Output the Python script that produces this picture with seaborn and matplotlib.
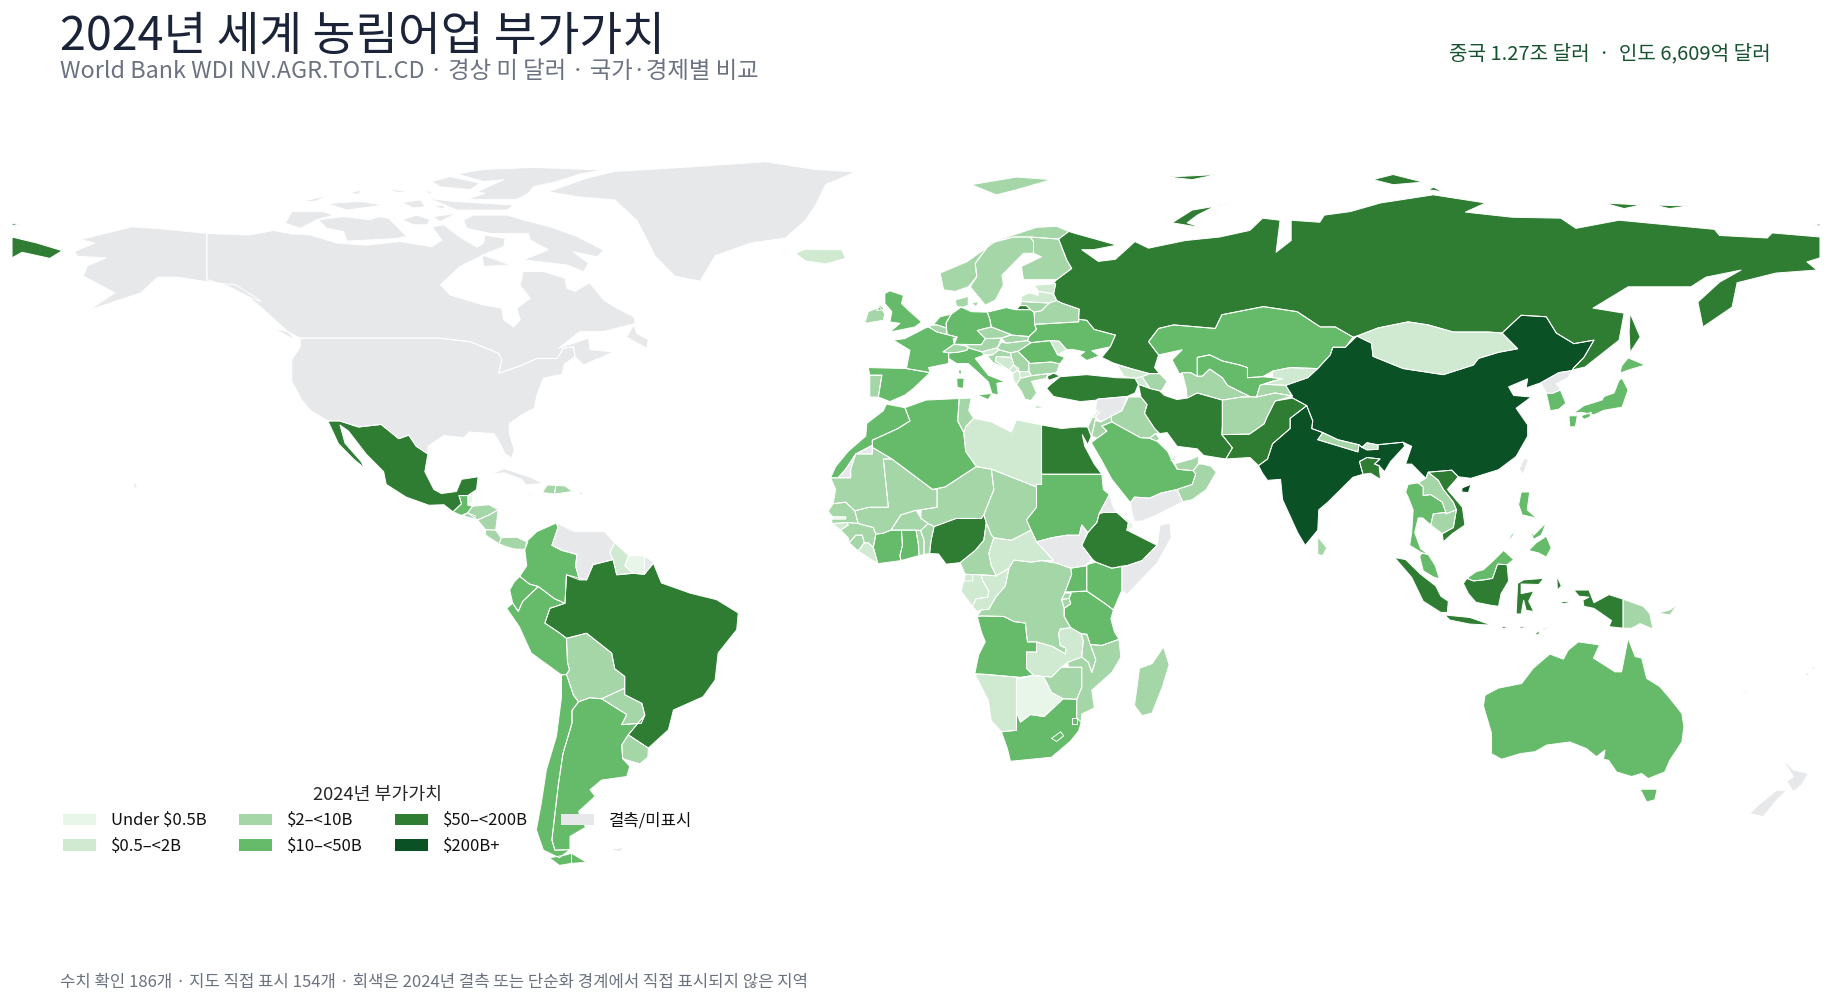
import numpy as np
import pandas as pd
import seaborn as sns
import matplotlib.pyplot as plt
from matplotlib.patches import Patch

bin_labels = ['Under $0.5B', '$0.5–<2B', '$2–<10B', '$10–<50B', '$50–<200B', '$200B+', '결측/미표시']
bin_colors = ['#e8f5e9', '#cfead1', '#a5d6a7', '#66bb6a', '#2e7d32', '#0a5126', '#e6e8ea']

# country outlines as flat lon,lat lists, one dict per value bin
under_05 = {
    'Suriname': [[-57.2,6,-54,5.9,-54.1,2.3,-56.3,2.5,-58,4]],
    'Botswana': [[20,-18.3,23.4,-17.6,25.3,-17.8,26,-19,27,-21,29.3,-22.2,26.8,-24.5,25.5,-25.7,22.8,-25.3,20.8,-26.8,20,-24.8,20,-22]],
    'Belize': [[-89.2,17.8,-88.2,18.5,-88.3,16.5,-89.2,15.9]],
    'EqGuinea': [[9.5,1,11.3,1,11.3,2.2,9.8,2.3]],
    'Djibouti': [[42,11,43.3,11.5,43,12.7,42.3,12.5]],
    'EastTimor': [[124.6,-8.3,126.6,-7.9,125,-8.8]],
}
from_05 = {
    'Guyana': [[-60,8.5,-57.2,6,-58,4,-56.3,2.5,-59.6,2.2,-60.3,5.2,-61,6.5]],
    'Iceland': [[-24,65.5,-22,64,-18,63.4,-14,64.5,-14.8,66.2,-18,66.2,-22,66.3]],
    'Libya': [[9.5,30.2,10,31.5,11.5,33,15,32.3,19,30.3,20,32.7,25,31.7,25,20,24,20,24,19.5,15,23,12,23.5,9.9,26.5]],
    'CAR': [[14.5,6.5,15.5,9.5,19,9,22.9,11,24,8.7,27.4,5,25,5,23,4.7,19.5,5.1,18.5,3.5,16,2,15,4]],
    'Gabon': [[9.8,2.3,13,2.2,13.2,1.2,14.5,-1,14.3,-2.2,12,-2.5,11.2,-4,9,-1,9.5,1]],
    'Congo': [[11.2,-4,12.2,-5,13,-4.7,14.5,-4.6,16,-2,17.8,0,18.5,3.5,16,2,13,2.2,13.2,1.2,14.5,-1,14.3,-2.2,12,-2.5]],
    'Zambia': [[22,-13,24,-13,24,-11,27.2,-11.9,29.8,-13.4,29.8,-12.2,28.7,-11.7,28.4,-9.3,28.7,-8.5,30.8,-8.2,32.9,-9.4,33.3,-10.8,33,-14,30.2,-15,28.9,-16,27,-17.9,25.3,-17.8,23.4,-17.6,22,-16.2]],
    'Namibia': [[11.7,-17.3,13.9,-17.4,20.8,-18,23.4,-17.6,20,-18.3,20,-22,20,-24.8,20,-28.4,17,-28.7,15,-26.5,14.4,-22.5]],
    'Lesotho': [[27,-30,28.8,-28.7,29.4,-29.5,28,-30.6]],
    'Eswatini': [[31,-26,32,-26,32,-27.2,31,-27.2]],
    'Liberia': [[-11.5,6.9,-7.6,4.4,-8.5,7.6,-9.5,8.5,-10.3,8.5]],
    'Gambia': [[-16.8,13.2,-14,13.2,-14,13.6,-16.6,13.6]],
    'GuineaBissau': [[-16.7,12.3,-13.7,12.5,-13.5,12,-15,11]],
    'Mongolia': [[87.8,49.2,92,50.8,98,52,102,51.4,107,50,114,50,116.7,49.8,119.8,46.7,116,46,112,44.8,111,43.5,105,41.6,97,42.8,91,45.2,90.7,47.8]],
    'Kyrgyzstan': [[69.5,39.7,73.6,39.5,78,41,80,42.8,74.5,43,71,42.3,71,41,73,40.8,71,40.3]],
    'Bhutan': [[88.8,27.3,89.8,28.2,92,27.8,92,26.9,89.8,26.8]],
    'Georgia': [[40,43.5,43.5,42.6,46.5,41.8,45,41.2,43.6,40.9,41.5,41.2]],
    'Armenia': [[43.6,40.9,45,41.2,46.5,39,44.3,39.7]],
    'Estonia': [[23.5,59.2,27.8,59.5,27.4,57.5,24.4,58]],
    'Latvia': [[21,57,22.5,57.7,24.3,57.2,24.4,58,27.4,57.5,28,56.2,26.5,55.7,21,56]],
    'Moldova': [[26.7,48.3,28.5,48.2,30,46.5,28.2,45.5]],
    'Bosnia': [[15.8,44.3,16,45.2,19,45,19.5,43.5,18.5,42.5]],
    'Slovenia': [[13.1,46.1,16.2,46.9,16.5,46.5,15.3,45.5,13.6,45.5]],
    'Montenegro': [[18.5,42.5,19.5,43.5,20.5,42.8,19.3,41.9]],
    'Albania': [[19.3,41.9,20.5,42.5,20.8,40.9,20,39.7,19.4,40.5]],
    'Macedonia': [[20.5,42.2,22.5,42.2,23,41.4,20.8,40.9]],
    'Lebanon': [[35.1,33.1,35.8,33.3,36.5,34.3,36,34.6]],
    'Qatar': [[50.8,24.7,51.6,25.9,51.6,24.6]],
    'Jamaica': [[-78.3,18.4,-76.3,18.1,-77,17.9]],
    'PuertoRico': [[-67.2,18.5,-65.6,18.3,-67,18]],
    'Fiji': [[177,-17,178,-17.3,177.5,-17.7], [178.3,-16.2,179.2,-15.8,178.8,-16.5]],
}
from_2 = {
    'Mauritania': [[-17,21.3,-13,21.3,-13,23,-12,26,-8.7,26,-8.7,27.3,-4.8,25,-6.5,25,-5.5,15.5,-9.3,15.5,-12.2,14.8,-14,16.5,-16.5,16.2,-16,19]],
    'Mali': [[-4.8,25,3.3,19,4.2,19,4.2,15.5,1,15,0,14.9,-3,14,-5,11,-6.5,10.4,-8,10.2,-8.5,11.5,-11.5,12.3,-12.2,14.8,-9.3,15.5,-5.5,15.5,-6.5,25]],
    'Niger': [[3.3,19,5.8,19.5,12,23.5,15,23,15.5,19,13.5,14,13,13.3,8,13.3,3.6,11.7,2.4,12.3,1,13.3,1,15,4.2,15.5,4.2,19]],
    'Chad': [[15,23,24,19.5,24,15.5,22,13,22.9,11,19,9,15.5,9.5,15,10,14,12.5,13.5,14,15.5,19]],
    'Tunisia': [[8.6,36.9,11,37,10.5,34.5,11.5,33,10,31.5,9.5,30.2,8.3,32.5]],
    'Cameroon': [[8.8,4.6,11.8,7,13.5,9,14,12.5,15,10,15.5,9.5,14.5,6.5,15,4,16,2,13,2.2,9.8,2.3]],
    'DRC': [[12.2,-6,13,-4.7,14.5,-4.6,16,-2,17.8,0,18.5,3.5,19.5,5.1,23,4.7,25,5,28,4.5,30.8,3.5,31,2.3,29.6,-1.4,29,-2.7,29.5,-4.4,29.5,-6,30.8,-8.2,28.7,-8.5,28.4,-9.3,28.7,-11.7,29.8,-12.2,29.8,-13.4,27.2,-11.9,24,-11,22.2,-11,22,-9.5,21.8,-7.3,19.5,-7,17.5,-6,13,-5.9]],
    'Rwanda': [[29,-2.7,29.6,-1.4,30.9,-1.4,30.5,-2.4]],
    'Burundi': [[29,-2.7,30.5,-2.4,30.8,-3.5,29.5,-4.4]],
    'Malawi': [[32.9,-9.4,34,-9.5,34.7,-11.5,35.8,-14.5,35,-17,34.3,-15,33,-14,33.3,-10.8]],
    'Mozambique': [[40.4,-10.5,37,-11.7,34.7,-11.5,35.8,-14.5,35,-17,34.3,-15,33,-14,30.2,-15,30.4,-16,33,-16,33,-20,32,-22.3,32,-26,32.9,-26.8,33,-25.2,35.5,-24,35,-20.5,39,-17,40.8,-14]],
    'Zimbabwe': [[25.3,-17.8,27,-17.9,28.9,-16,30.4,-16,33,-16,33,-20,32,-22.3,29.3,-22.2,27,-21,26,-19]],
    'Madagascar': [[49.3,-12,50.4,-15.5,49,-20,47,-25,45,-25.5,43.5,-23.5,44,-20,44.5,-16.2,47,-15.3]],
    'BurkinaFaso': [[-5,11,-2.9,11,0,11,0.9,10.9,2.4,12.3,1,13.3,0,14.9,-3,14]],
    'Benin': [[1.6,6.2,2.7,6.4,3,9,3.6,11.7,2.4,12.3,0.9,10.9,1.6,9]],
    'Togo': [[0.6,6,1.6,6.2,1.6,9,0.9,10.9,0,11,0.5,8]],
    'SierraLeone': [[-13.3,8.5,-11.5,6.9,-10.3,8.5,-10.7,10,-12,10]],
    'Guinea': [[-15,11,-13.5,9.5,-13.3,8.5,-12,10,-10.7,10,-10.3,8.5,-9.5,8.5,-8.5,7.6,-8,10.2,-8.5,11.5,-11.5,12.3,-13.7,12.5,-13.5,12]],
    'Senegal': [[-17.5,14.7,-16.5,16.2,-14,16.5,-12.2,14.8,-11.5,12.3,-13.7,12.5,-16.7,12.3,-16.8,13.2,-14,13.2,-14,13.6,-16.6,13.6]],
    'Honduras': [[-89.3,14.4,-88.3,15.7,-85,16,-83.2,15,-85,14,-87.3,13]],
    'ElSalvador': [[-90.1,13.8,-89.3,14.4,-87.7,13.8,-88,13.2]],
    'Nicaragua': [[-87.3,13,-85,14,-83.2,15,-83.7,11,-85.7,11.1]],
    'CostaRica': [[-85.7,11.1,-83.7,11,-82.6,9.5,-83,8.3,-85.7,10]],
    'Panama': [[-83,8.3,-82.6,9.5,-79.5,9.6,-77.3,8.6,-77.9,7.2,-80,7.3,-81.5,7.7]],
    'Haiti': [[-74.4,18.4,-72,18.1,-71.7,19.8,-73.4,19.9]],
    'Dominican': [[-72,18.1,-68.4,18.6,-69.9,19.7,-71.7,19.8]],
    'Bolivia': [[-69.6,-10.3,-65.6,-9.3,-60.6,-13.2,-60,-16.3,-58,-17.8,-58,-20,-58.2,-20.2,-62.6,-22.2,-65,-22,-67.2,-22.8,-68.2,-21.5,-69.6,-17.4,-69,-16.5,-69.4,-15]],
    'Paraguay': [[-58.2,-20.2,-58,-20,-58,-21.4,-54.6,-23.1,-54,-25.4,-54.7,-27,-58.6,-27.3,-57.6,-25.3,-62.6,-22.2]],
    'Uruguay': [[-57.3,-29.3,-53.3,-31.9,-53.4,-33.7,-55,-35,-58.4,-34,-58.6,-31.3]],
    'Ireland': [[-10.2,51.7,-9.5,54,-7.2,54.9,-6.2,53.6,-6.5,52.3]],
    'Portugal': [[-9.2,41.5,-6.8,41.5,-7.5,37.2,-9.2,37.2]],
    'Belgium': [[2.5,51,3.4,51.4,4.2,51.4,6,50.8,6.2,49.5,4.2,50]],
    'Switzerland': [[5.4,46.1,7.6,47.6,10.4,47.2,10.1,46.4,8.3,46,6.5,45.9]],
    'Austria': [[9.6,47.5,13,47.5,13.8,48.7,17,48.8,16.2,46.9,13.1,46.1,10.4,46.9]],
    'Czechia': [[12.2,50.3,15,51,19,49.5,17,48.8,13.8,48.7]],
    'Slovakia': [[17,48.8,19,49.4,22.5,49.1,22.2,48.3,18,47.8]],
    'Hungary': [[16.2,46.9,17,48,18,47.8,22.2,48.3,22.9,47.9,20.3,46.2,18.8,45.9,16.5,46.5]],
    'Croatia': [[13.6,45.3,15.3,45.5,16.5,46.5,18.8,45.9,19,45,16,45.2,15.8,44.3,18.5,42.5,15.3,44,14.3,45.2]],
    'Serbia': [[18.8,45.9,20.3,46.2,22,44.5,22.4,44.2,22.5,42.2,20.5,42.2,19.5,43.5,19,45]],
    'Bulgaria': [[22.4,44.2,22.7,43.8,27,44.1,28.6,43.7,28,42,26.3,41.8,23,41.4,22.5,42.2]],
    'Greece': [[20,39.7,20.8,40.9,23,41.4,26.3,41.8,26,40.9,23,40.3,24,38,22.9,36.5,21.7,36.8,21,38.3], [23.6,35.5,26.3,35.2,24,35]],
    'Denmark': [[7.8,56.3,8.1,55,9.5,54.9,10.4,55.3,10.4,57], [11,55.7,12.5,56,12,55]],
    'Norway': [[4.8,61.6,5.5,58.3,7.8,58,10.4,58.9,12.1,60.9,11.8,63.5,14.8,67.5,19.4,68.7,22.7,68.7,28.4,68.3,30.4,69.8,28,70.8,24,70.6,16.1,68,10.1,63.8], [11,79,20,80.5,27,80,20,78,16,77]],
    'Sweden': [[10.8,58.9,13.8,55.3,15.8,56.3,17.4,59.3,17.1,61.2,21.4,65.5,23.4,65.5,23.4,67.8,22.7,68.7,19.4,68.7,14.8,67.5,11.8,63.5,12.1,60.9]],
    'Finland': [[23.4,67.8,22.7,68.7,28.4,68.3,30,64.2,31,62.5,28,60.3,21.4,60.3,21,62.9,25,64.8,23.4,65.5]],
    'Lithuania': [[21,56,26.5,55.7,25,54.2,23.5,53.9,22.8,54.4,22,55.2,20.7,55.2]],
    'Belarus': [[23.6,51.5,32.4,52,32.4,53,32.5,54.5,29,55.7,28,56.2,26.5,55.7,25,54.2,23.5,53.9,23.6,52.5]],
    'Azerbaijan': [[45,41.2,46.5,41.8,48.5,41.8,50,40.3,48.9,38.4,46.5,38.9,46.5,39]],
    'Iraq': [[38.8,33.4,41,34.5,42.3,37.2,44.8,37.2,46,35.7,45.5,34,47.5,31,48.5,30,47.7,30,46.5,29.1,44.7,29.2,39,32.3]],
    'Jordan': [[35,29.4,36.2,29.2,38,30.5,37,31.5,39,32.3,38.8,33.4,36.8,32.3,35.6,32.6]],
    'Israel': [[34.2,31.3,34.9,29.5,35.5,31.5,35.8,33.3,35.1,33.1]],
    'Kuwait': [[46.5,29.1,47.7,30,48.5,29,48,28.5]],
    'UAE': [[51.6,24.1,52,23,55.2,22.7,56.2,24,56.3,25.6,55,25]],
    'Oman': [[55,20,55.7,22,55.2,22.7,56.2,24,57,24,58.7,23.6,59.8,22.4,57.8,19,55,17,53.1,16.6,52,19]],
    'Afghanistan': [[61,36.6,64.8,37.2,67.8,37.2,71.5,38,74.9,37.4,71.5,36.4,70,33.5,69.3,31.9,66.4,29.9,60.9,29.8,61,31.5]],
    'Turkmenistan': [[53,42,54.7,42,56,41.3,57,41.3,58.5,42.7,61,41,62,39.5,66.5,37.3,64.8,37.2,61,36.6,56,38,54,37,53.8,39]],
    'Tajikistan': [[67.8,37.2,68.5,39.5,71,40.3,69.5,39.7,73.6,39.5,75,37.4,71.5,38]],
    'Nepal': [[80,28.8,81,30.2,84,28.8,88.2,27.8,88,26.4]],
    'SriLanka': [[80,9.7,81.8,7.5,81,6,80,6.2]],
    'Laos': [[100,20.3,101.5,21.2,102,22.4,104,20.8,105,19,107,16.5,107.6,15,105.5,14.2,105.5,14.5,104.8,16.5,102.5,18,101,17.8,101,19.5]],
    'Cambodia': [[102.5,12,103,14.2,105.5,14.5,105.5,14.2,107.6,15,107,11.5,104.8,10.3]],
    'PNG': [[140.8,-2.6,144.8,-4,146.1,-5.4,146.8,-8.7,149.8,-9.8,144.2,-7.4,142.5,-8.3,140.8,-8.3], [147.8,-5.3,150.1,-4.7,151.6,-3.7,150.1,-5.7]],
}
from_10 = {
    'Colombia': [[-77.5,8.8,-75.5,10.7,-71.6,12.4,-71.3,11.5,-72.5,8,-70.5,7,-67.5,6.2,-67.8,4,-67,1.2,-69.6,2.2,-69.9,-3.4,-72,-2.5,-75.2,-0.1,-77,0.4,-78.9,1.9,-77.5,4,-77.9,7.2]],
    'Ecuador': [[-78.9,1.9,-77,0.4,-75.2,-0.1,-78.3,-3,-79.2,-5,-80.3,-3.4,-80.9,-0.8,-80,0.8]],
    'Peru': [[-80.3,-3.4,-79.2,-5,-78.3,-3,-75.2,-0.1,-72,-2.5,-69.9,-3.4,-72.9,-4.4,-73.9,-7.3,-70.9,-9.3,-69.6,-10.3,-69.4,-15,-69,-16.5,-69.6,-17.4,-70.6,-17.5,-76.6,-13.2,-79,-8,-81.5,-4.4]],
    'Chile': [[-70.6,-17.5,-69.6,-17.4,-68.2,-21.5,-67.2,-22.8,-68.5,-24.5,-68.5,-27,-70.3,-33,-71.2,-39,-71.8,-44,-72.5,-50,-71.9,-52,-68.9,-51.9,-71,-53.5,-74.2,-52,-75.6,-48,-74.6,-42.7,-73.6,-36.2,-71.6,-29.6,-70.6,-22], [-68.6,-52.6,-68.6,-54.6,-71,-55,-73,-53.5,-70,-53]],
    'Argentina': [[-67.2,-22.8,-65,-22,-62.6,-22.2,-57.6,-25.3,-58.6,-27.3,-54.7,-27,-54,-25.4,-57.3,-29.3,-58.6,-31.3,-58.4,-34,-57,-35.5,-57.6,-37.5,-62.6,-38.2,-64.9,-40.1,-63.9,-41.4,-67.2,-44.4,-65.8,-47.5,-68.9,-49.3,-68.9,-51.9,-71.9,-52,-72.5,-50,-71.8,-44,-71.2,-39,-70.3,-33,-68.5,-27,-68.5,-24.5], [-68.6,-52.6,-65.6,-54.4,-68.6,-54.6]],
    'Guatemala': [[-92.2,14.6,-90.5,16.2,-91,17.8,-89.2,17.8,-89.2,15.9,-88.3,15.7,-89.3,14.4,-90.5,13.9]],
    'Morocco': [[-5.9,35.8,-2.2,35.1,-1.2,32.5,-3.6,31,-8.7,28.7,-8.7,27.7,-12,26,-14,23,-15.5,21.3,-17,21.3,-16,23.5,-13.5,26.5,-10,29.5,-9.8,32,-6.5,34.5]],
    'Algeria': [[-8.7,27.3,-8.7,28.7,-3.6,31,-1.2,32.5,-2.2,35.1,2,36.6,8.6,36.9,8.3,32.5,9.5,30.2,9.9,26.5,12,23.5,5.8,19.5,3.3,19,-4.8,25]],
    'Sudan': [[25,22,37,22,37.3,19,38.5,18,36.5,14.3,36,12.5,34.2,10.5,33,12,32.5,10,30,10,27,9.5,24,8.7,22.9,11,22,13,24,15.5,24,19.5,24,20,25,20]],
    'IvoryCoast': [[-7.6,4.4,-3,5,-3.2,6,-2.7,8,-2.9,11,-5,11,-6.5,10.4,-8,10.2,-8.5,7.6]],
    'Ghana': [[-3,5,0.6,6,0.5,8,0,11,-2.9,11,-2.7,8,-3.2,6]],
    'Kenya': [[34,4.2,35.8,4.7,39,3.5,41,3.9,41,-0.8,39.3,-4.7,37.7,-3.5,34,-1,34,1]],
    'Uganda': [[30.8,3.5,33.9,4,34,4.2,34,1,34,-1,30,-1.2,29.6,-1.4,31,2.3]],
    'Tanzania': [[30,-1.2,34,-1,37.7,-3.5,39.3,-4.7,38.8,-6.5,39.5,-9,40.4,-10.5,37,-11.7,34.7,-11.5,34,-9.5,32.9,-9.4,30.8,-8.2,29.5,-6,29.5,-4.4,30.8,-3.5,30.5,-2.4,30.9,-1.4]],
    'Angola': [[12.2,-6,13,-5.9,17.5,-6,19.5,-7,21.8,-7.3,22,-9.5,22.2,-11,24,-11,24,-13,22,-13,22,-16.2,23.4,-17.6,20.8,-18,13.9,-17.4,11.7,-17.3,12.5,-13.5,13.8,-11,13,-9]],
    'SouthAfrica': [[17,-28.7,20,-28.4,20,-24.8,20.8,-26.8,22.8,-25.3,25.5,-25.7,26.8,-24.5,29.3,-22.2,32,-22.3,32,-26,32.9,-26.8,32.4,-28.5,30.8,-30.5,27,-33.7,22,-34.2,18.8,-34.5,18.2,-32]],
    'Spain': [[-9.5,43,-1.9,42.8,2.8,42,-0.5,38.9,-2.2,37.6,-5.2,36.3,-7.5,37.2,-6.8,41.5,-9.2,41.5]],
    'France': [[-1.9,42.8,-1.2,46.4,-4.5,48.4,-2.2,48.7,2.1,50.9,2.5,51,4.2,50,6.2,49.5,8.2,49,7.4,48.7,7.6,47.6,5.4,46.1,6.5,45.9,6.5,43.8,2.5,43,2.8,42], [8.4,42.5,9.1,42.5,8.8,41.2]],
    'Italy': [[6.5,44.8,6.5,45.9,8.3,46,10.1,46.4,10.4,46.9,13.1,46.1,13.6,45.5,11.8,44.8,14.4,41.5,17.7,40.2,16.1,39.9,16.4,37.6,15.1,37.9,14.4,40.2,10.4,43.8,8.1,43.8], [12.2,37.6,15.1,37.9,14.4,36.7], [8.1,40.9,9.6,40.9,9.4,38.9,8.2,39.1]],
    'Germany': [[7,53.5,9,54.9,11,54,14.2,53.9,14.7,52.5,15,51,12.2,50.3,13.8,48.7,13,47.5,7.6,47.6,8.2,49,6.2,49.5,6,51.8]],
    'Poland': [[14.2,53.9,18,54.8,19.7,54.4,22.8,54.4,23.5,53.9,23.6,52.5,23.6,51.5,24,50.5,22.5,49.1,19,49.4,15,51,14.7,52.5]],
    'UK': [[-6.2,57.6,-5.2,58.1,-2.5,57.2,-2.9,55.6,-1.2,54,1.1,52,-0.2,51,-5.2,50,-3.2,51.7,-5.2,52,-4.8,54,-6.2,55.6], [-7.8,54.3,-6.2,54.4,-7.2,55.3]],
    'Netherlands': [[3.4,51.4,4.8,53,7,53.5,6,51.8,6,50.8,4.2,51.4]],
    'Romania': [[20.3,46.2,22.9,47.9,26.7,48.3,28.2,45.5,29.6,45,28.6,43.7,27,44.1,22.7,43.8,22,44.5]],
    'Ukraine': [[22.2,48.3,22.5,49.1,24,50.5,23.6,51.5,32.4,52,32.4,52.5,34,52.3,35.5,50.5,39.7,49.4,38.7,47.1,35,46.3,36.5,45.3,34,44.4,32.6,45.4,33.6,46.1,31,46.6,30,46.5,28.5,48.2,26.7,48.3,22.9,47.9]],
    'Kazakhstan': [[46.3,48.1,48.3,50.7,51.3,51.4,59.6,50.7,60.9,53.4,69.2,55,75.9,54,80.5,51,83.5,51,87,49,85.5,47,83,47,82.5,45.5,80,42.8,74.5,43,71,42.3,69,41.2,66,41,66,43,64.5,43.5,61,44.3,58.5,45.5,56,45,56,41.3,54.7,42,53,42,52.5,41.7,51,44.5,53,46.5,48.3,45.5]],
    'Uzbekistan': [[56,41.3,56,45,58.5,45.5,61,44.3,64.5,43.5,66,43,66,41,69,41.2,71,41,73,40.8,71,40.3,68.5,39.5,67.8,37.2,66.5,37.3,62,39.5,61,41,58.5,42.7,57,41.3]],
    'SaudiArabia': [[36.2,29.2,38,30.5,37,31.5,39,32.3,44.7,29.2,46.5,29.1,48,28.5,50.1,26.5,51,24.6,52,23,55.2,22.7,55.7,22,55,20,52,19,48.8,18.3,46.5,17.3,43.5,17.5,42.7,16.4,39,21,36.8,25,34.9,28.2]],
    'Thailand': [[100,20.3,101,19.5,101,17.8,102.5,18,104.8,16.5,105.5,14.5,103,14.2,102.5,12,100.9,13.4,100,13.4,99.3,10.5,100.5,7.3,102,6.2,100.8,6.5,98.3,8,98.7,10.5,99,15,98,17.5,97.5,18.5,98,20]],
    'Malaysia': [[100.8,6.5,102,6.2,103.4,4,104.2,1.4,103,1.8,101,3,100.3,5.8], [109.7,1.5,111.5,2.8,113,3.2,115.5,5.5,117,7,119,5.2,117.7,4.2,115.8,4.3,114.8,1.5,113,1.2,111,1]],
    'Philippines': [[120.5,18.5,122.2,18.5,121.7,15,124,13,123,13.5,120.7,14,120,16], [122,7,123.5,8.5,125.5,9.8,126.5,7.5,125.5,5.7,124,6.5], [122,11.5,123,10,125.5,12.5,124.5,10,123,9.2], [117.2,8.4,119.5,11.2,118.8,9.8]],
    'Japan': [[130.9,34,133,35.5,136.6,36.6,137,37.3,139,38,140,40.5,140.6,40.9,141.8,38.6,140.6,35.2,137,34.6,135,33.7,132.5,34.2], [130,33.5,131.7,33.5,131.3,31.4,130.2,31.3], [132.4,33.5,134.5,34.2,134.2,33.3,133,32.8], [140.2,41.9,140.5,43.3,141.8,44.9,145.2,43.5,141.8,42.5]],
    'SouthKorea': [[125.5,38,126.7,37.9,128.3,38.6,129.4,36,128,34.8,126.3,34.5]],
    'Australia': [[113.3,-21.5,113,-23.6,114.6,-29,114.6,-33,116.6,-34.1,120.3,-33,123.3,-32.6,125.6,-31.3,130.2,-30.7,133.5,-32,135.5,-33.6,137.2,-32.3,136.9,-34.1,137.9,-34.3,139.5,-36.6,142.5,-37.5,144.5,-36.9,145.8,-37.9,149.1,-36.6,150.1,-34.3,152.5,-30.7,152.9,-27.7,152.5,-25.1,150.1,-22.1,148.1,-19.8,145.5,-18.2,144.5,-14.2,143.2,-13.9,141.8,-10.3,140.5,-16.9,139.2,-16.9,134.9,-14.2,136.1,-11.6,131.9,-11,129.9,-12.6,128.9,-14.4,126.2,-13.4,122.9,-16.2,120.6,-19.2,116,-20.1],
                  [144.2,-40,147.6,-40,147.1,-42.1,145.5,-42.5]],
}
from_50 = {
    'Russia': [[27.4,59.6,28,60.3,31,62.5,30,64.2,28.4,68.3,30.4,69.8,31.7,69.4,40,67.1,35.3,66.2,33,66.2,36.3,63.9,39.7,64.3,43.6,67.8,46.3,66.5,53.6,68,60.5,68.7,66.5,70,69,72.4,72.5,72,71.7,65.7,74.7,68,74.7,72,80.4,71.6,81.3,73,86.5,73.7,92.5,75.4,103,77,113.4,75.4,109.4,73.6,118.6,72.6,128.4,72.4,131.4,70.4,140,72,159,70.2,160,69,169.5,68.5,170.5,69.5,180,68.7,180,64.6,177.4,63.8,179.4,62.2,171.2,61.6,163.5,59.7,163,57.3,162.5,54.9,156.7,51,155.7,55.9,160,59.8,164.3,62.2,157.3,60.8,154.3,58.9,141.8,58.9,134.8,54.7,141,53.7,140,48.4,133.2,43.1,131,42.6,130.6,42.4,131,43,133,45,135,48.4,131,47.7,127.5,49.8,125.5,53,120.5,53.3,116.7,49.8,114,50,107,50,102,51.4,98,52,92,50.8,87.8,49.2,87,49,83.5,51,80.5,51,75.9,54,69.2,55,60.9,53.4,59.6,50.7,51.3,51.4,48.3,50.7,46.3,48.1,48.3,45.5,47.5,43,48.5,41.8,46.5,41.8,43.5,42.6,39.3,43.9,37,45,38.7,47.1,39.7,49.4,35.5,50.5,34,52.3,32.4,52.5,32.4,53,32.5,54.5,29,55.7,28,56.2,27.4,57.5,27.8,59.5],
               [-180,68.7,-175,67.5,-170,66,-172.5,64.5,-178,65.7,-180,64.6], [51,71.5,55,74,68.3,76.2,60,75,56,73,54,71.5,57,70.5], [50,80.5,60,81,55,80], [91,80,95,81,101,79.5,95,79], [102,78,105,77.6,103,78.5], [137,75.4,144.4,75,141,74.3], [147,75,154,74.8,150,74.3], [178.5,71,180,71.3,180,70.9], [-180,71.3,-178,71.4,-180,70.9], [20,54.4,22.8,54.4,22,55.2,20.7,55.2], [142.2,53.7,144.2,49,142.2,46,142,50]],
    'Mexico': [[-117.1,32.5,-114.8,32.5,-111,31.3,-106.5,31.8,-103,29,-101,29.7,-99.5,27.5,-97.2,26,-97.8,22.5,-96,19,-94.5,18.2,-91.5,18.6,-90.5,21,-87.2,21.5,-87.5,19,-88.2,18.5,-89.2,17.8,-91,17.8,-90.5,16.2,-92.2,14.6,-94,16,-97,15.9,-101.5,17.5,-105.5,20,-106,22.5,-109.5,26,-113,30.5,-114.7,31.7,-113.7,28.1,-110.5,24.5,-109.8,23.2,-112,25,-115,28]],
    'Brazil': [[-52.3,4.5,-50.7,0.6,-45,-1.4,-39.7,-2.7,-35.4,-5.3,-35.7,-8.6,-39.4,-13.2,-40,-18.5,-42.4,-21.8,-48.3,-24.4,-49.3,-28.3,-53.3,-31.9,-57.3,-29.3,-54,-25.4,-54.6,-23.1,-58,-21.4,-58,-17.8,-60,-16.3,-60.6,-13.2,-65.6,-9.3,-69.6,-10.3,-70.9,-9.3,-73.9,-7.3,-72.9,-4.4,-69.9,-3.4,-69.6,2.2,-65.6,1.2,-64.3,4.2,-60.3,5.2,-59.6,2.2,-56.3,2.5,-54.1,2.3]],
    'Nigeria': [[2.7,6.4,3,9,3.6,11.7,8,13.3,13,13.3,13.5,14,14,12.5,13.5,9,11.8,7,8.8,4.6,6,4.3,4.5,6.3]],
    'Egypt': [[25,31.7,29,31,32.3,31.3,34.2,31.3,34.9,29.5,34.2,27.8,33.1,29.8,33.6,27.5,35.5,24,37,22,25,22]],
    'Ethiopia': [[36,12.5,36.5,14.3,37.5,14.5,40,14.5,42.3,12.5,42,11,48,8,45,5,42,4,39,3.5,35.8,4.7,35,5.4,33,8,34.2,10.5]],
    'Turkey': [[26,38.9,26.7,39.6,28.7,41.2,34,41.6,40,41,43.6,40.9,44.3,39.7,43.6,38,42,37.3,36.2,36.8,36,36.6,32.7,36.3,27.4,37.3], [26,41.2,27.4,41.9,28.7,41.3,26.5,40.5]],
    'Iran': [[44.3,39.7,46.5,38.9,48.5,38.4,49.5,37.5,52,36.7,54,37,56,38,61,36.6,61,31.5,60.9,29.8,63,27.2,61.7,25,57.3,25.7,56,27,52,27.5,50,30.2,48.5,30,47.5,31,45.5,34,46,35.7,44.8,37.2]],
    'Pakistan': [[61.7,25,63,27.2,60.9,29.8,66.4,29.9,69.3,31.9,70,33.5,71.5,36.4,75,37,77.8,35.5,74.5,33,74.5,31,71,28,70,25,68.2,23.7,66.5,25.3]],
    'Bangladesh': [[88.3,24.5,89.8,25.3,92.4,25,91.3,24,92.2,23.7,92.5,21,90.5,22.2,89,22]],
    'Vietnam': [[102,22.4,106.7,22.8,108,21.5,105.8,19,108.8,15.5,109.3,12,106.8,10.3,105,8.7,104.8,10.3,107,11.5,107.6,15,107,16.5,105,19,104,20.8]],
    'Indonesia': [[109,0.5,109.7,1.5,111,1,113,1.2,114.8,1.5,115.8,4.3,117.7,4.2,118,1,116.5,-1.5,116,-4,114.5,-3.8,111.5,-3.2,110,-1.5],
                  [95.3,5.6,97.5,5.2,100.5,2.3,103.5,0,104.5,-2,106,-3,105.8,-5.2,104.5,-5.2,101,-3,98.7,1.7],
                  [105.3,-5.7,110.3,-6.2,114.6,-7.7,110.3,-7.5,106.3,-6.7],
                  [119.5,-5.5,119.8,0.5,121,1.2,125,1.5,124,0.3,120.5,0.4,120.5,-1.5,123,-1,122,-3,123,-5,121.5,-4.8,121,-2.8,120.5,-5.5],
                  [127.6,2,128.5,0,127.7,-0.8], [128,-3,130.8,-3.2,129,-3.5], [116.3,-8.1,118.3,-7.9,117,-8.4], [119.6,-8,122.3,-7.9,120.6,-8.3], [118.8,-9,120.3,-9.5,119.5,-9.4], [123,-9.7,124.2,-8.7,124,-9.5],
                  [131,-0.8,134,-0.8,135,-3.3,138,-1.7,140.8,-2.6,140.8,-8.3,138,-8,138.5,-6.8,135,-4.4,133,-4,132.8,-2.8,134,-2.2,132,-2]],
}
from_200 = {
    'China': [[73.6,39.5,78,41,80,42.8,82.5,45.5,83,47,85.5,47,87.8,49.2,90.7,47.8,91,45.2,97,42.8,105,41.6,111,43.5,112,44.8,116,46,119.8,46.7,116.7,49.8,120.5,53.3,125.5,53,127.5,49.8,131,47.7,135,48.4,133,45,131,43,130.6,42.4,128,42,124.4,40,121.5,39,121.8,40.8,118,39.2,119,37.5,122.5,37.2,119.5,35,121.8,31.7,121.8,29.5,119.5,25.5,116,22.9,110.5,21.2,108,21.5,106.7,22.8,102,22.4,101.5,21.2,98.7,24,97.5,24,98.7,27.5,97,28.3,91.7,27.8,89.8,28.2,88.8,27.3,88.2,27.8,84,28.8,81,30.2,78.8,31,79,32.5,77.8,35.5,75,37],
              [108.7,19.3,110.5,20,110,18.4,108.7,18.5]],
    'India': [[68.2,23.7,70,25,71,28,74.5,31,74.5,33,77.8,35.5,79,32.5,78.8,31,81,30.2,80,28.8,88,26.4,88.2,27.8,88.8,27.3,89.8,26.8,92,26.9,92,27.8,97,28.3,97.3,27.5,94.5,24.5,93.3,22.5,92.2,23.7,91.3,24,92.4,25,89.8,25.3,88.3,24.5,89,22,87,21.4,82,16.5,80.2,15,80,11,77.5,8,76,10.5,73,17,72.6,21,70,20.8,69,22.2]],
}
no_data = {
    'Canada': [[-141.2,69.4,-132.6,69.1,-128,70,-124.3,69.3,-120.6,69.1,-115.3,67.5,-109.4,67.1,-102.7,67.8,-96.4,66.8,-94.4,68.1,-96.4,70.7,-94.1,71.1,-90.4,68.4,-87.4,66.7,-86.1,67.5,-85.8,69.1,-81.8,68.4,-82.1,66.8,-84.8,65.8,-88.1,64.2,-90.8,62.9,-94.7,59.3,-92.8,57.3,-86.1,55.3,-82.5,54.7,-82.1,52.4,-80.1,51,-78.8,52.4,-79.5,54.7,-76.8,56.6,-78.8,59.2,-78.2,61.9,-74.2,61.9,-69.9,60.6,-69.5,58.6,-67.9,58,-65,59.7,-62.2,56.3,-59.6,54.7,-56.2,53,-55.9,51.7,-58.2,51.1,-62.2,50.1,-66.9,50.1,-71.2,46.8,-65.2,48.8,-64.9,46.5,-60.2,46.1,-66.2,43.5,-67.9,45.2,-68.2,47.1,-70.2,46.8,-71.5,44.8,-75.5,44.8,-79.1,43.2,-83.1,41.9,-82.5,44.5,-83.1,45.8,-88.8,48.1,-95.1,48.8,-122.6,48.8,-125,50,-130,54.5,-133,57,-137,59,-141.2,60.3],
               [-90.1,72,-88.1,73,-81.4,73,-76.8,71.7,-72.8,70.7,-67.5,68.8,-62.2,66.1,-63.5,64.8,-68.2,65.8,-65.2,63.5,-66.2,61.9,-69.5,63.2,-78.2,64.2,-73.2,66.2,-76.8,68.1,-77.2,69.4,-84.8,69.4,-89.4,70.4],
               [-86.4,65.2,-80.8,63.2,-86.1,62.9],
               [-119,72.1,-114,72.7,-108.7,72.1,-107,72.7,-105,72.4,-101.4,68.8,-103.4,68.4,-113.3,67.9,-114,69.8,-117.3,70.4],
               [-125.6,71.4,-124.3,73.7,-118,73.7,-116,73,-119.3,72.1,-122.6,70.4],
               [-117.3,75.3,-110.7,75.7,-106,75,-113.3,74], [-122.3,75.7,-116.7,77,-119.7,75.7], [-113,77.3,-110.4,78,-111,77.1],
               [-105.4,78.3,-100,77.4,-103.4,77.5], [-98.4,78,-95.7,77.4,-97,77.3], [-97,76.3,-92,75.7,-80.1,75,-81.4,74,-91.4,74],
               [-102.4,75.5,-98.7,76,-97.7,74.7,-100,74.4], [-96.4,74.7,-94.1,75,-93.8,74.2],
               [-102.4,72.1,-99.4,73,-96.7,72.1,-97.4,71.1,-100,71.1], [-96.1,72.7,-91.4,73.4,-94.8,71.7],
               [-91.4,81.1,-86.1,82,-76.2,82.4,-62.2,81.9,-66.9,81.1,-71.5,79.6,-76.2,78.6,-77.2,77.3,-79.5,76.1,-89.4,76.1,-85.8,77.3,-87.4,77.6,-82.1,80,-86.1,79.6],
               [-96.4,79.6,-92.8,80.6,-86.8,79.3,-88.8,78,-94.8,78.6],
               [-56.2,51.4,-57.6,49,-53.6,46.8,-53.3,48.5,-55.6,49.7], [-128,50.7,-123.5,48.4,-125,50]],
    'USA': [[-122.6,48.8,-95.1,48.8,-88.8,48.1,-83.1,45.8,-82.5,44.5,-83.1,41.9,-79.1,43.2,-75.5,44.8,-71.5,44.8,-70.2,46.8,-68.2,47.1,-67.9,45.2,-70,43.7,-70.5,41.7,-74.2,40.9,-75.5,37.5,-76,35,-78,34,-81,32,-81,30,-80,26.8,-80.5,25.2,-81.8,26,-82.8,28,-84,30,-89,30.3,-90,29.2,-94,29.6,-97.2,27.5,-97.2,26,-99.5,27.5,-101,29.7,-103,29,-106.5,31.8,-111,31.3,-114.8,32.5,-117.1,32.5,-120.5,34.5,-122.3,36.6,-124.3,40.3,-124.3,44.5,-122.6,47.1],
            [-141.2,69.4,-141.2,60.3,-137,59,-133,57,-130.4,56,-131,56.5,-135.5,59.3,-140,59.7,-147,60.8,-151,60.8,-154.4,57.7,-164.7,54.3,-159.5,57.7,-162,59,-165.8,61,-165,63,-161.3,64.6,-167,64.9,-167.5,65.9,-163.5,67.5,-166.4,68.2,-156.1,70.7,-150,70.3],
            [-156,20.5,-155,19.8,-155.5,19.1]],
    'Greenland': [[-73.2,77.6,-65.5,80.3,-60,81.6,-45,82.5,-30,83.5,-20,82,-12,81.5,-18,79,-20,75,-22,72,-26,68.5,-33,67.5,-40,65,-43,60,-48,61,-52,65,-54,69,-55.6,72,-60,76,-67.2,76.6]],
    'Cuba': [[-84.9,21.9,-82,23.1,-77,21.5,-74.2,20.2,-77.7,19.9,-78.5,21,-82,22.3]],
    'Venezuela': [[-71.6,12.4,-68,10.7,-62,10.7,-60,8.5,-61,6.5,-60.3,5.2,-64.3,4.2,-65.6,1.2,-67,1.2,-67.8,4,-67.5,6.2,-70.5,7,-72.5,8,-71.3,11.5]],
    'FrenchGuiana': [[-54,5.9,-51.6,4.2,-52.3,4.5,-54.1,2.3]],
    'Falklands': [[-61,-51.8,-58,-51.5,-59,-52.3]],
    'WesternSahara': [[-8.7,27.7,-8.7,26,-12,26,-13,23,-13,21.3,-15.5,21.3,-14,23,-12,26]],
    'SouthSudan': [[24,8.7,27,9.5,30,10,32.5,10,33,12,34.2,10.5,33,8,35,5.4,33.9,4,30.8,3.5,28,4.5,25,5,27.4,5]],
    'Eritrea': [[36.5,14.3,38.5,18,39.5,15,43,12.5,42.3,12.5,40,14.5,37.5,14.5]],
    'Somalia': [[48,8,48.6,12,50.6,12.4,50.8,9.5,48,4.5,42,-1.7,41,-0.8,41,3.9,42,4,45,5]],
    'Syria': [[36,36.6,36.2,36.8,42,37.3,41,34.5,38.8,33.4,36.8,32.3,35.8,33.3,35.8,35]],
    'Yemen': [[42.7,16.4,43.5,17.5,46.5,17.3,48.8,18.3,52,19,53.1,16.6,48,14,45,12.8,43.5,12.7,43,14.5]],
    'NorthKorea': [[130.6,42.4,128,42,124.4,40,125.5,38,126.7,37.9,128.3,38.6,127.5,39.8,129.8,41]],
    'Taiwan': [[121,25,122,25,120.9,22,120.1,23]],
    'NewZealand': [[172.4,-33.9,174.7,-36.2,177.7,-36.9,176.3,-39.2,174.7,-40.5,173.4,-38.5,174.7,-37.5], [173.4,-40.3,171.4,-42.1,168.7,-45.4,166,-44.8,168.1,-42.8,171.4,-40.2]],
    'NewCaledonia': [[163.7,-19.6,166.2,-21.5,165,-21]],
    'Solomon': [[157,-7,160,-9,161,-10]],
}
bin_shapes = [under_05, from_05, from_2, from_10, from_50, from_200, no_data]

title = '2024년 세계 농림어업 부가가치'
subtitle = 'World Bank WDI NV.AGR.TOTL.CD · 경상 미 달러 · 국가·경제별 비교'
callout = '중국 1.27조 달러  ·  인도 6,609억 달러'
footnote = '수치 확인 186개 · 지도 직접 표시 154개 · 회색은 2024년 결측 또는 단순화 경계에서 직접 표시되지 않은 지역'
legend_title = '2024년 부가가치'

rows = []
for b, shapes in enumerate(bin_shapes):
    for name, pieces in shapes.items():
        for i, flat in enumerate(pieces):
            pts = np.array(flat, dtype=float).reshape(-1, 2)
            pts = np.vstack([pts, pts[:1]])
            part = pd.DataFrame(pts, columns=['lon', 'lat'])
            part['bin'] = b
            part['piece'] = f'{name}-{i}'
            rows.append(part)
df = pd.concat(rows, ignore_index=True)

sns.set_theme(style='white')
plt.rcParams['font.family'] = ['Noto Sans CJK KR', 'DejaVu Sans']
palette = sns.color_palette(bin_colors)

W, H = 1828, 1001
fig = plt.figure(figsize=(W / 100, H / 100), dpi=100)
ax = fig.add_axes([0, 0, 1, 1])

for (b, piece), g in df.groupby(['bin', 'piece'], sort=False):
    ax.fill(g['lon'], g['lat'], color=palette[b], lw=0)

sns.lineplot(data=df, x='lon', y='lat', units='piece', estimator=None, sort=False,
             color='white', lw=0.7, legend=False, ax=ax)

# plate carree, about 5 px per degree, equator at y=586
ax.set_xlim((0 - 916) / 5.022, (W - 916) / 5.022)
ax.set_ylim((586 - H) / 5.08, 586 / 5.08)
ax.axis('off')
sns.despine(ax=ax, left=True, bottom=True)

fig.text(60 / W, 1 - 50 / H, title, fontsize=33.5, color='#1b2338', ha='left', va='baseline')
fig.text(60 / W, 1 - 78 / H, subtitle, fontsize=16.85, color='#6b7280', ha='left', va='baseline')
fig.text(1771 / W, 1 - 59 / H, callout, fontsize=14.5, color='#14532d', ha='right', va='baseline')
fig.text(60 / W, 1 - 987 / H, footnote, fontsize=12, color='#6b7280', ha='left', va='baseline')

handles = [Patch(facecolor=palette[i], edgecolor='none', label=bin_labels[i]) for i in range(len(bin_labels))]
leg = ax.legend(handles=handles, ncols=4, title=legend_title, loc='upper left',
                bbox_to_anchor=(63 / W, 1 - 786 / H), bbox_transform=fig.transFigure,
                frameon=False, fontsize=12, title_fontsize=13.2, handlelength=1.98, handleheight=0.72,
                handletextpad=0.9, columnspacing=1.95, labelspacing=0.5, borderpad=0, borderaxespad=0)
for t in leg.get_texts():
    t.set_color('#111111')

fig.savefig('out.png', dpi=100)
